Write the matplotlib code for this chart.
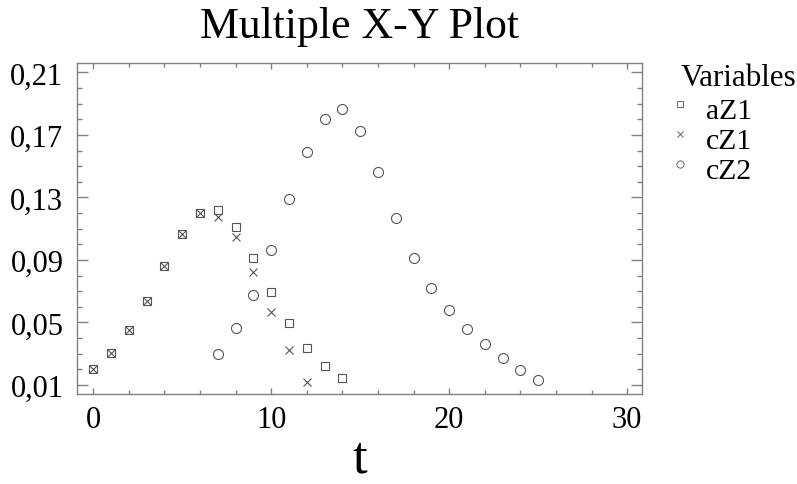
import matplotlib
matplotlib.use("Agg")
import matplotlib.pyplot as plt
from matplotlib.lines import Line2D
from matplotlib.ticker import MultipleLocator, FixedLocator, FuncFormatter

plt.rcParams['font.family'] = ['Liberation Serif', 'DejaVu Serif']

t_aZ1 = list(range(0, 15))
aZ1 = [0.0200, 0.0305, 0.0450, 0.0635, 0.0859, 0.1064, 0.1198, 0.1219,
       0.1109, 0.0912, 0.0693, 0.0497, 0.0335, 0.0220, 0.0147]
t_cZ1 = list(range(0, 13))
cZ1 = [0.0200, 0.0305, 0.0450, 0.0635, 0.0859, 0.1064, 0.1198, 0.1176,
       0.1049, 0.0823, 0.0565, 0.0324, 0.0121]
t_cZ2 = list(range(7, 26))
cZ2 = [0.0300, 0.0463, 0.0674, 0.0963, 0.1288, 0.1592, 0.1801, 0.1863,
       0.1723, 0.1460, 0.1166, 0.0912, 0.0718, 0.0578, 0.0458, 0.0362,
       0.0271, 0.0196, 0.0134]
names = ["aZ1", "cZ1", "cZ2"]
y_ticks = [0.01, 0.05, 0.09, 0.13, 0.17, 0.21]
x_ticks = [0, 10, 20, 30]

W, H = 797, 485
fig = plt.figure(figsize=(W / 100, H / 100), dpi=100)
L, R, T, B = 77.3, 642.3, 64.3, 395.0
ax = fig.add_axes([L / W, 1 - B / H, (R - L) / W, (B - T) / H])

mc = '#555555'
lw = 0.8
ax.plot(t_aZ1, aZ1, ls='none', marker='s', ms=5.2, mfc='none', mec=mc, mew=lw)
ax.plot(t_cZ1, cZ1, ls='none', marker='x', ms=5.5, mec=mc, mew=lw)
ax.plot(t_cZ2, cZ2, ls='none', marker='o', ms=7.2, mfc='none', mec=mc, mew=lw)

ax.set_xlim(-0.9, 30.85)
ax.set_ylim(0.00424, 0.2158)

for s in ax.spines.values():
    s.set_color('#808080')
    s.set_linewidth(1.0)

ax.xaxis.set_major_locator(FixedLocator(x_ticks))
ax.xaxis.set_minor_locator(MultipleLocator(2))
ax.yaxis.set_major_locator(FixedLocator(y_ticks))
ax.yaxis.set_minor_locator(MultipleLocator(0.01))
ax.yaxis.set_major_formatter(FuncFormatter(lambda v, p: f"{v:.2f}".replace('.', ',')))

ax.tick_params(axis='both', which='both', direction='in', color='#808080', width=1.0)
ax.tick_params(axis='x', which='major', top=True, bottom=True, length=4.5,
               labelsize=22, pad=8)
ax.tick_params(axis='x', which='minor', top=True, bottom=True, length=3.0)
ax.tick_params(axis='y', which='major', left=True, right=True, length=8,
               labelsize=22, pad=10)
ax.tick_params(axis='y', which='minor', left=True, right=True, length=3.8)

ax.set_xlabel('t', fontsize=38, labelpad=0)
fig.text(0.5 * (L + R) / W, 1 - 27 / H, 'Multiple X-Y Plot', fontsize=31.5,
         ha='center', va='center')

# legend
fig.text(681 / W, 1 - 78 / H, 'Variables', fontsize=22.3, ha='left', va='center')
leg_markers = [('s', 4.2), ('x', 4.2), ('o', 5.2)]
ys = [112, 142, 172]
for (m, s), yy, name in zip(leg_markers, ys, names):
    fig.add_artist(Line2D([680 / W], [1 - (yy - 7) / H], ls='none', marker=m,
                          ms=s, mfc='none', mec='#666666', mew=0.7,
                          transform=fig.transFigure))
    fig.text(706 / W, 1 - yy / H, name, fontsize=21.4, ha='left', va='center')

fig.savefig('out.png', dpi=100)
